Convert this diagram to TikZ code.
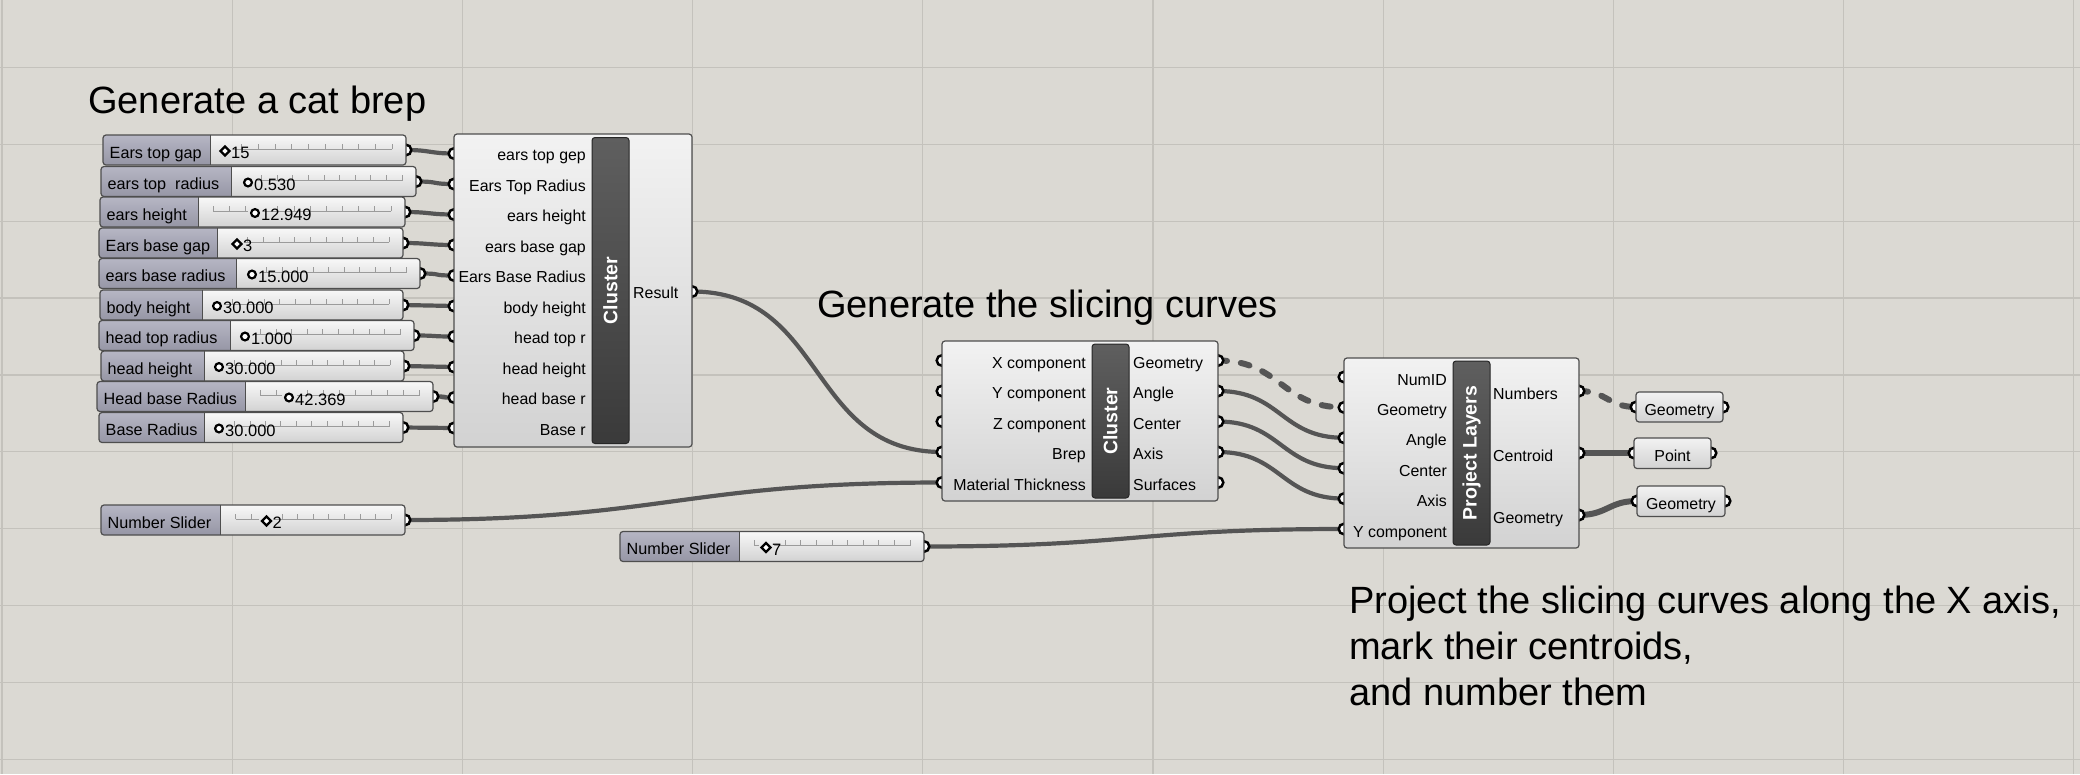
\documentclass[tikz,border=0pt]{standalone}
\usepackage{fontspec}
\setmainfont{Liberation Sans}
\definecolor{bg}{RGB}{219,217,211}
\definecolor{gridc}{RGB}{196,194,188}
\definecolor{wirec}{RGB}{85,85,85}
\definecolor{edgec}{RGB}{78,78,78}
\definecolor{compT}{RGB}{242,242,242}
\definecolor{compB}{RGB}{210,210,210}
\definecolor{barT}{RGB}{95,95,95}
\definecolor{barB}{RGB}{58,58,58}
\definecolor{labT}{RGB}{182,182,196}
\definecolor{labB}{RGB}{150,150,165}
\definecolor{valT}{RGB}{248,248,248}
\definecolor{valB}{RGB}{210,210,210}
\definecolor{tickc}{RGB}{155,155,155}
\newcommand\ghlabfont{\fontsize{15.9}{19}\selectfont}
\newcommand\ghsldfont{\fontsize{16.2}{19}\selectfont}
\newcommand\ghvalfont{\fontsize{16.5}{19}\selectfont}
\newcommand\ghtitlefont{\fontsize{38}{46}\selectfont}
\newcommand\ghbarfont{\fontsize{19.5}{22}\selectfont\bfseries}
\newlength\ghvlen
\tikzset{
  comp/.style={draw=edgec, line width=1.2pt, rounded corners=3pt, top color=compT, bottom color=compB, inner sep=0pt, outer sep=0pt, anchor=north west},
  darkbar/.style={draw=black!85, line width=1pt, rounded corners=3pt, top color=barT, bottom color=barB, inner sep=0pt, outer sep=0pt, anchor=north west},
  bartext/.style={font=\ghbarfont, text=white, rotate=90, inner sep=0pt},
  inlab/.style={font=\ghlabfont, anchor=base east, inner sep=0pt},
  outlab/.style={font=\ghlabfont, anchor=base west, inner sep=0pt},
  sldlab/.style={font=\ghsldfont, anchor=base west, inner sep=0pt},
  midlab/.style={font=\ghlabfont, anchor=base, inner sep=0pt},
  vallab/.style={font=\ghvalfont, anchor=base west, inner sep=0pt},
  titletext/.style={font=\ghtitlefont, anchor=base west, inner sep=0pt},
  gridline/.style={draw=gridc, line width=1.3pt},
  port/.style={fill=white, draw=black, line width=2.5pt},
  wire/.style={draw=wirec, line width=4.2pt},
  thickwire/.style={draw=wirec, line width=6pt},
  dashwire/.style={draw=wirec, line width=6pt, dash pattern=on 9pt off 14pt, line cap=round},
  sliderframe/.style={draw=edgec, line width=1.2pt, rounded corners=3pt, inner sep=0pt, outer sep=0pt, anchor=north west},
  sldtick/.style={draw=tickc, line width=0.8pt},
  sldmark/.style={fill=white, draw=black, line width=2.2pt},
}
% #1 name, #2 left, #3 top, #4 right, #5 label end, #6 label, #7 C/D, #8 marker x, #9 value
\newcommand\ghslider[9]{%
  \begin{scope}
    \clip[rounded corners=3pt] (#2,#3) rectangle (#4,#3+30);
    \shade[top color=labT,bottom color=labB] (#2,#3) rectangle (#5,#3+30);
    \shade[top color=valT,bottom color=valB] (#5,#3) rectangle (#4,#3+30);
  \end{scope}
  \pgfmathsetmacro\tka{#5+15}%
  \pgfmathsetmacro\tkb{#4-14}%
  \pgfmathtruncatemacro\tkn{round((\tkb-\tka)/16)}%
  \draw[sldtick] (\tka,#3+14) -- (\tkb,#3+14);
  \foreach \k in {0,...,\tkn} \draw[sldtick] ({\tka+\k*(\tkb-\tka)/\tkn},#3+14) -- ++(0,-5.5);
  \settowidth\ghvlen{\ghvalfont #9}%
  \pgfmathsetmacro\vend{#8+8+\ghvlen}%
  \shade[top color=valT,bottom color=valB] (#8-7,#3) rectangle (\vend,#3+30);
  \node[vallab] (#1v) at (#8+6,#3+23.5) {#9};
  \ifx C#7 \draw[sldmark] (#8,#3+16) circle[radius=3.9pt];
  \else \draw[sldmark] (#8,#3+11.5) -- (#8+4.5,#3+16) -- (#8,#3+20.5) -- (#8-4.5,#3+16) -- cycle; \fi
  \draw[edgec,line width=1pt] (#5,#3) -- (#5,#3+30);
  \node[sliderframe, minimum width={(#4-#2)*1pt}, minimum height=30pt] (#1) at (#2,#3) {};
  \node[sldlab] (#1l) at (#2+6.5,#3+23) {#6};
}
\begin{document}
\begin{tikzpicture}[x=1pt,y=-1pt]
\useasboundingbox (0,0) rectangle (2080,774);
\fill[bg] (0,0) rectangle (2080,774);
\foreach \k in {0,...,9} {
  \draw[gridline] ({2+230.2*\k},0) -- ({2+230.2*\k},774);
  \draw[gridline] (0,{67.5+76.85*\k}) -- (2080,{67.5+76.85*\k});
}
% ---- port coordinates
\foreach \i/\r/\t in {0/406/135,1/416/166.5,2/405/197,3/403/228,4/420/258.5,5/403/290,6/414/320.5,7/404/351,8/433/381.5,9/403/412.5}
  \coordinate (so\i) at (\r,\t+15);
\coordinate (ns1o) at (405,520);
\coordinate (ns2o) at (924,546.5);
\foreach \i in {0,...,9} \coordinate (c1i\i) at (454,{153.5+30.5*\i});
\coordinate (c1o) at (692,291.5);
\foreach \i in {0,...,4} {
  \coordinate (c2i\i) at (942,{360.5+30.5*\i});
  \coordinate (c2o\i) at (1218,{360.5+30.5*\i});
}
\foreach \i in {0,...,5} \coordinate (pli\i) at (1344,{377+30.4*\i});
\coordinate (plo0) at (1579,391);
\coordinate (plo1) at (1579,453);
\coordinate (plo2) at (1579,515);
\coordinate (g1i) at (1636,407);
\coordinate (g1o) at (1723,407);
\coordinate (pti) at (1634,453);
\coordinate (pto) at (1711,453);
\coordinate (g2i) at (1637,501);
\coordinate (g2o) at (1725,501);
% ---- wires
\foreach \i in {0,...,9} \draw[wire] (so\i) .. controls +(25,0) and +(-25,0) .. (c1i\i);
\draw[wire] (c1o) .. controls +(135,0) and +(-135,0) .. (c2i3);
\draw[wire] (ns1o) .. controls +(260,0) and +(-260,0) .. (c2i4);
\draw[dashwire] (c2o0) .. controls +(63,0) and +(-63,0) .. (pli1);
\foreach \a/\b in {1/2,2/3,3/4} \draw[wire] (c2o\a) .. controls +(63,0) and +(-63,0) .. (pli\b);
\draw[wire] (ns2o) .. controls +(210,0) and +(-210,0) .. (pli5);
\draw[dashwire] (plo0) .. controls +(28,0) and +(-28,0) .. (g1i);
\draw[thickwire] (plo1) .. controls +(28,0) and +(-28,0) .. (pti);
\draw[thickwire] (plo2) .. controls +(28,0) and +(-28,0) .. (g2i);
% ---- ports
\foreach \i in {0,...,9} {\draw[port] (so\i) circle[radius=5.3pt]; \draw[port] (c1i\i) circle[radius=5.3pt];}
\foreach \i in {0,...,4} {\draw[port] (c2i\i) circle[radius=5.3pt]; \draw[port] (c2o\i) circle[radius=5.3pt];}
\foreach \i in {0,...,5} \draw[port] (pli\i) circle[radius=5.3pt];
\foreach \p in {ns1o,ns2o,c1o,plo0,plo1,plo2,g1i,g1o,pti,pto,g2i,g2o} \draw[port] (\p) circle[radius=5.3pt];
% ---- sliders
\ghslider{s0}{103}{135}{406}{210}{Ears top gap}{D}{225}{15}
\ghslider{s1}{101}{166.5}{416}{231}{ears top\ \ radius}{C}{248}{0.530}
\ghslider{s2}{100}{197}{405}{198}{ears height}{C}{255}{12.949}
\ghslider{s3}{99}{228}{403}{217}{Ears base gap}{D}{237}{3}
\ghslider{s4}{99}{258.5}{420}{236}{ears base radius}{C}{252}{15.000}
\ghslider{s5}{100}{290}{403}{202}{body height}{C}{217}{30.000}
\ghslider{s6}{99}{320.5}{414}{230}{head top radius}{C}{245}{1.000}
\ghslider{s7}{101}{351}{404}{204}{head height}{C}{219}{30.000}
\ghslider{s8}{97}{381.5}{433}{245}{Head base Radius}{C}{289}{42.369}
\ghslider{s9}{99}{412.5}{403}{204}{Base Radius}{C}{219}{30.000}
\ghslider{ns1}{101}{505}{405}{220.5}{Number Slider}{D}{266.5}{2}
\ghslider{ns2}{620}{531.5}{924}{739}{Number Slider}{D}{766}{7}
% ---- cluster 1
\node[comp, minimum width=238pt, minimum height=313pt] (c1) at (454,134) {};
\node[darkbar, minimum width=37pt, minimum height=306pt] (c1bar) at (592,137.5) {};
\node[bartext] (c1bt) at (c1bar.center) {Cluster};
\foreach \t [count=\i from 0] in {ears top gep,Ears Top Radius,ears height,ears base gap,Ears Base Radius,body height,head top r,head height,head base r,Base r}
  \node[inlab] (c1l\i) at (586,{153.5+30.5*\i+7}) {\t};
\node[outlab] (c1ol) at (633,298.5) {Result};
% ---- cluster 2
\node[comp, minimum width=276pt, minimum height=160pt] (c2) at (942,341) {};
\node[darkbar, minimum width=37pt, minimum height=154pt] (c2bar) at (1092,344) {};
\node[bartext] (c2bt) at (c2bar.center) {Cluster};
\foreach \t [count=\i from 0] in {X component,Y component,Z component,Brep,Material Thickness}
  \node[inlab] (c2l\i) at (1086,{360.5+30.5*\i+7.5}) {\t};
\foreach \t [count=\i from 0] in {Geometry,Angle,Center,Axis,Surfaces}
  \node[outlab] (c2r\i) at (1133,{360.5+30.5*\i+7.5}) {\t};
% ---- project layers
\node[comp, minimum width=235pt, minimum height=190pt] (pl) at (1344,358) {};
\node[darkbar, minimum width=37pt, minimum height=184pt] (plbar) at (1453,361) {};
\node[bartext] (plbt) at (plbar.center) {Project Layers};
\foreach \t [count=\i from 0] in {NumID,Geometry,Angle,Center,Axis,Y component}
  \node[inlab] (pll\i) at (1447,{377+30.4*\i+8}) {\t};
\node[outlab] (plr0) at (1493,399) {Numbers};
\node[outlab] (plr1) at (1493,461) {Centroid};
\node[outlab] (plr2) at (1493,523) {Geometry};
% ---- params
\node[comp, minimum width=87pt, minimum height=30pt] (g1) at (1636,392) {};
\node[midlab] (g1t) at (1679.5,415) {Geometry};
\node[comp, minimum width=77pt, minimum height=30.5pt] (pt) at (1634,438) {};
\node[midlab] (ptt) at (1672.5,461) {Point};
\node[comp, minimum width=88pt, minimum height=30.5pt] (g2) at (1637,486) {};
\node[midlab] (g2t) at (1681,509) {Geometry};
% ---- titles
\node[titletext] (t1) at (88,113) {Generate a cat brep};
\node[titletext] (t2) at (817,317) {Generate the slicing curves};
\node[titletext] (t3a) at (1349,613) {Project the slicing curves along the X axis,};
\node[titletext] (t3b) at (1349,659) {mark their centroids,};
\node[titletext] (t3c) at (1349,705) {and number them};
\end{tikzpicture}
\end{document}
